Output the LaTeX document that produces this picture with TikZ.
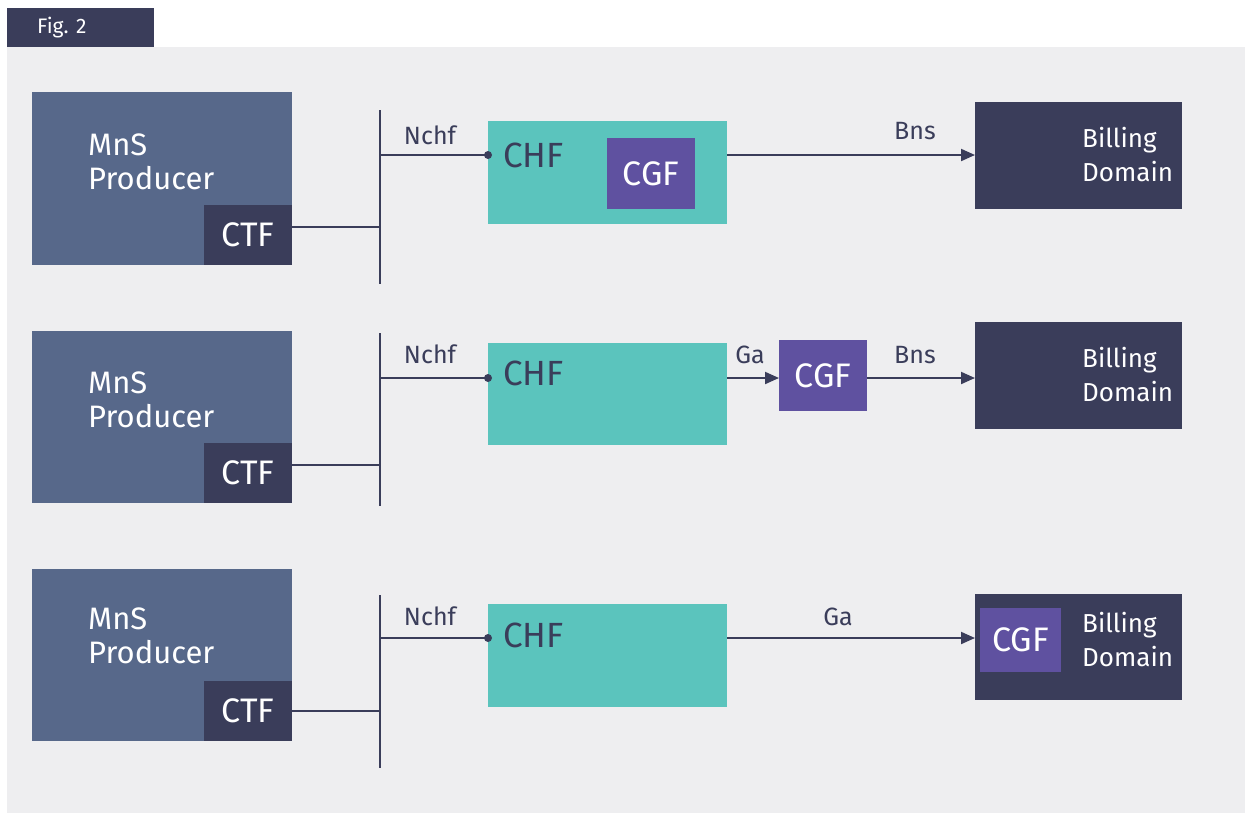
\documentclass[tikz,border=0pt]{standalone}
\usepackage{fontspec}
\setmainfont{Fira Sans}
\usetikzlibrary{arrows.meta}
\definecolor{navy}{HTML}{3A3D5A}
\definecolor{mns}{HTML}{57688A}
\definecolor{teal}{HTML}{5BC4BD}
\definecolor{cgfc}{HTML}{5F51A0}
\definecolor{bg}{HTML}{EEEEF0}
\tikzset{
  box/.style={rectangle, inner sep=0pt, outer sep=0pt, anchor=north west},
  wire/.style={draw=navy, line width=2pt},
  arr/.style={wire, -{Triangle[length=14pt,width=12pt]}},
  lbl/.style={text=navy, font=\fontsize{25}{28}\selectfont, inner sep=0pt},
  mnstext/.style={anchor=west, align=left, text=white, font=\fontsize{31}{34}\selectfont, inner sep=0pt},
  ctftext/.style={text=white, font=\fontsize{34}{36}\selectfont},
  cgftext/.style={text=white, font=\fontsize{34}{36}\selectfont},
  chftext/.style={anchor=west, text=navy, font=\fontsize{35}{38}\selectfont, inner sep=0pt},
  bdtext/.style={anchor=west, align=left, text=white, font=\fontsize{26}{34}\selectfont, inner sep=0pt},
}
\begin{document}
\begin{tikzpicture}[x=1pt,y=-1pt]
\useasboundingbox (0,0) rectangle (1245,812);
\fill[white] (0,0) rectangle (1245,812);
\fill[bg] (7,47) rectangle (1246,813);
\node[box, fill=navy, minimum width=147pt, minimum height=39pt] (fig) at (7,8) {};
\node[text=white, anchor=west, font=\fontsize{21}{24}\selectfont, inner sep=0pt] (figt) at (37,28) {Fig. 2};

% Row 1
\node[box, fill=mns, minimum width=260pt, minimum height=173pt] (mns1) at (32,92) {};
\node[mnstext] (mnst1) at (88,162) {MnS\\Producer};
\node[box, fill=navy, minimum width=88pt, minimum height=60pt, ctftext] (ctf1) at (204,205) {CTF};
\coordinate (bt1) at (380,110);
\coordinate (bb1) at (380,284);
\draw[wire] (bt1) -- (bb1);
\coordinate (bj1) at (380,227);
\draw[wire] (ctf1.east |- bj1) -- (bj1);
\node[box, fill=teal, minimum width=239pt, minimum height=103pt] (chf1) at (488,121) {};
\node[chftext] (chft1) at (503,155) {CHF};
\node[box, fill=cgfc, minimum width=88pt, minimum height=71pt, cgftext] (cgf1) at (607,138) {CGF};
\coordinate (np1) at (488,155);
\coordinate (nb1) at (380,155);
\draw[wire] (nb1) -- (np1);
\fill[navy] (np1) circle (4pt);
\node[lbl, anchor=south] (nchf1) at (430,145) {Nchf};
\node[box, fill=navy, minimum width=207pt, minimum height=107pt] (bd1) at (975,102) {};
\node[bdtext] (bdt1) at (1082,155) {Billing\\Domain};
\draw[arr] (chf1.east |- np1) -- (bd1.west |- np1);
\node[lbl, anchor=south] (bns1) at (915,140) {Bns};

% Row 2
\node[box, fill=mns, minimum width=260pt, minimum height=172pt] (mns2) at (32,331) {};
\node[mnstext] (mnst2) at (88,400) {MnS\\Producer};
\node[box, fill=navy, minimum width=88pt, minimum height=60pt, ctftext] (ctf2) at (204,443) {CTF};
\coordinate (bt2) at (380,333);
\coordinate (bb2) at (380,506);
\draw[wire] (bt2) -- (bb2);
\coordinate (bj2) at (380,465);
\draw[wire] (ctf2.east |- bj2) -- (bj2);
\node[box, fill=teal, minimum width=239pt, minimum height=102pt] (chf2) at (488,343) {};
\node[chftext] (chft2) at (503,373) {CHF};
\coordinate (np2) at (488,378);
\coordinate (nb2) at (380,378);
\draw[wire] (nb2) -- (np2);
\fill[navy] (np2) circle (4pt);
\node[lbl, anchor=south] (nchf2) at (430,364) {Nchf};
\node[box, fill=cgfc, minimum width=88pt, minimum height=71pt, cgftext] (cgf2) at (779,340) {CGF};
\draw[arr] (chf2.east |- np2) -- (cgf2.west |- np2);
\node[lbl, anchor=south] (ga2) at (750,364) {Ga};
\node[box, fill=navy, minimum width=207pt, minimum height=107pt] (bd2) at (975,322) {};
\node[bdtext] (bdt2) at (1082,375) {Billing\\Domain};
\draw[arr] (cgf2.east |- np2) -- (bd2.west |- np2);
\node[lbl, anchor=south] (bns2) at (915,364) {Bns};

% Row 3
\node[box, fill=mns, minimum width=260pt, minimum height=172pt] (mns3) at (32,569) {};
\node[mnstext] (mnst3) at (88,636) {MnS\\Producer};
\node[box, fill=navy, minimum width=88pt, minimum height=60pt, ctftext] (ctf3) at (204,681) {CTF};
\coordinate (bt3) at (380,595);
\coordinate (bb3) at (380,768);
\draw[wire] (bt3) -- (bb3);
\coordinate (bj3) at (380,711);
\draw[wire] (ctf3.east |- bj3) -- (bj3);
\node[box, fill=teal, minimum width=239pt, minimum height=103pt] (chf3) at (488,604) {};
\node[chftext] (chft3) at (503,635) {CHF};
\coordinate (np3) at (488,638);
\coordinate (nb3) at (380,638);
\draw[wire] (nb3) -- (np3);
\fill[navy] (np3) circle (4pt);
\node[lbl, anchor=south] (nchf3) at (430,626) {Nchf};
\node[box, fill=navy, minimum width=207pt, minimum height=106pt] (bd3) at (975,594) {};
\node[box, fill=cgfc, minimum width=81pt, minimum height=64pt, cgftext] (cgf3) at (980,608) {CGF};
\node[bdtext] (bdt3) at (1082,640) {Billing\\Domain};
\draw[arr] (chf3.east |- np3) -- (bd3.west |- np3);
\node[lbl, anchor=south] (ga3) at (838,626) {Ga};
\end{tikzpicture}
\end{document}
